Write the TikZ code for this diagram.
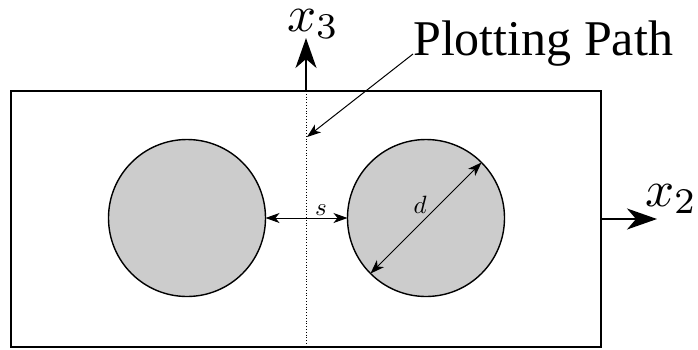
\RequirePackage{fix-cm}
\documentclass[tikz,border=0pt]{standalone}
\usepackage{fontspec}
\newfontfamily\timesfont{Liberation Serif}
\usetikzlibrary{arrows.meta}
\newcommand{\bigsub}[1]{\mbox{\fontsize{7.1}{8}\selectfont #1}}
\tikzset{
  outerbox/.style={draw, line width=1.4pt, rectangle, minimum width=590pt, minimum height=256pt, outer sep=0pt, inner sep=0pt},
  fiber/.style={draw, line width=1.4pt, circle, fill=black!20, minimum size=157pt, outer sep=0pt, inner sep=0pt},
  axisarrow/.style={line width=2pt, -{Stealth[length=30pt, width=21pt, inset=9pt]}},
  dimarrow/.style={line width=1pt, {Stealth[length=14pt, width=10pt, inset=4pt]}-{Stealth[length=14pt, width=10pt, inset=4pt]}},
  leaderarrow/.style={line width=1pt, -{Stealth[length=14pt, width=10pt, inset=4pt]}},
  bigmath/.style={font=\fontsize{10}{12}\selectfont, inner sep=0pt, scale=5.1},
  smallmath/.style={font=\fontsize{10}{12}\selectfont, inner sep=0pt, scale=2.5},
  pathlabel/.style={font=\timesfont\fontsize{50}{60}\selectfont, inner sep=0pt}
}
\begin{document}
\begin{tikzpicture}[x=1pt, y=-1pt]
\useasboundingbox (0,0) rectangle (698,349);
\node[outerbox] (box) at (306,219) {};
\node[fiber] (c1) at (187,218) {};
\node[fiber] (c2) at (426,218) {};
\draw[dotted, line width=0.8pt] (box.north) -- (box.south);
\coordinate (x3tip) at (306,38);
\coordinate (x2tip) at (657,219);
\coordinate (x2base) at (601,219);
\draw[axisarrow] (box.north) -- (x3tip);
\draw[axisarrow] (x2base) -- (x2tip);
\node[bigmath, anchor=base west] (x3) at (286,31) {$x_{\bigsub{3}}$};
\node[bigmath, anchor=base west] (x2) at (644,206) {$x_{\bigsub{2}}$};
\draw[dimarrow] (c1.east) -- (c2.west);
\node[smallmath, anchor=base] (s) at (321,215) {$s$};
\draw[dimarrow] (c2.45) -- (c2.225);
\node[smallmath, anchor=base] (d) at (420,213) {$d$};
\node[pathlabel, anchor=base west] (pp) at (413,55) {Plotting Path};
\coordinate (pptip) at (307,137);
\draw[leaderarrow] (pp.base west) ++(0,-1) -- (pptip);
\end{tikzpicture}
\end{document}
